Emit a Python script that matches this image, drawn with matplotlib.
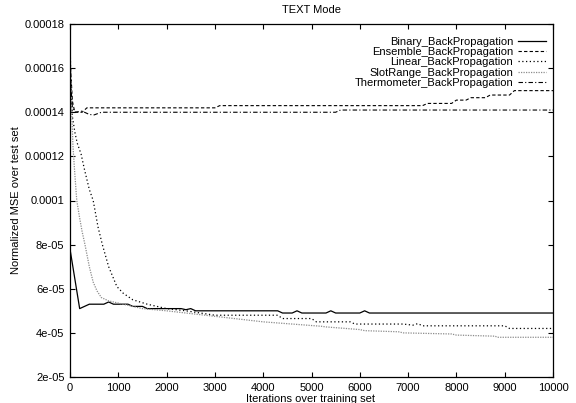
import matplotlib
matplotlib.use('Agg')
import matplotlib.pyplot as plt

plt.rcParams['font.family'] = ['Liberation Sans', 'DejaVu Sans']
plt.rcParams['font.size'] = 8

# 数据 (迭代次数, MSE)
binary_x = [0, 200, 400, 700, 800, 900, 1200, 1300, 1500, 1600, 2300, 2400, 2500, 2600,
            4300, 4400, 4600, 4700, 4800, 5300, 5400, 5500, 6000, 6100, 6200, 10000]
binary_y = [7.8e-05, 5.1e-05, 5.3e-05, 5.3e-05, 5.4e-05, 5.3e-05, 5.3e-05, 5.2e-05, 5.2e-05,
            5.1e-05, 5.1e-05, 5.05e-05, 5.1e-05, 5.0e-05, 5.0e-05, 4.9e-05, 4.9e-05, 5.0e-05,
            4.9e-05, 4.9e-05, 5.0e-05, 4.9e-05, 4.9e-05, 5.0e-05, 4.9e-05, 4.9e-05]

ensemble_x = [0, 50, 100, 250, 350, 3000, 3100, 7300, 7400, 7900, 8000, 8200, 8300,
              8600, 8700, 9100, 9200, 10000]
ensemble_y = [0.000165, 0.000145, 0.00014, 0.00014, 0.000142, 0.000142, 0.000143, 0.000143,
              0.000144, 0.000144, 0.0001455, 0.0001455, 0.0001466, 0.0001466, 0.0001478,
              0.0001478, 0.0001498, 0.0001498]

linear_x = [0, 20, 50, 100, 150, 230, 300, 400, 480, 580, 670, 800, 970, 1100, 1300, 1600,
            2000, 2400, 2700, 3000, 4300, 4400, 5000, 5100, 5800, 5900, 6900, 7100, 7200,
            7300, 9000, 9050, 9100, 10000]
linear_y = [0.000175, 0.00015, 0.000138, 0.000131, 0.000126, 0.000121, 0.000114, 0.000105,
            0.0001, 8.8e-05, 8.0e-05, 7.0e-05, 6.1e-05, 5.8e-05, 5.5e-05, 5.3e-05, 5.1e-05,
            5.0e-05, 4.9e-05, 4.8e-05, 4.8e-05, 4.65e-05, 4.65e-05, 4.5e-05, 4.5e-05, 4.4e-05,
            4.4e-05, 4.35e-05, 4.42e-05, 4.32e-05, 4.32e-05, 4.26e-05, 4.2e-05, 4.2e-05]

slot_x = [0, 30, 60, 100, 140, 200, 250, 310, 400, 480, 560, 650, 800, 1000, 1500, 2000,
          2400, 2800, 3200, 3600, 4000, 4600, 5200, 5300, 6000, 6100, 6800, 6900, 7900,
          8000, 8800, 8850, 10000]
slot_y = [0.00017, 0.000145, 0.000125, 0.000112, 0.0001, 9.2e-05, 8.6e-05, 8.0e-05, 7.0e-05,
          6.3e-05, 5.9e-05, 5.6e-05, 5.45e-05, 5.35e-05, 5.1e-05, 5.0e-05, 4.9e-05, 4.8e-05,
          4.7e-05, 4.6e-05, 4.5e-05, 4.4e-05, 4.3e-05, 4.27e-05, 4.15e-05, 4.1e-05, 4.05e-05,
          4.0e-05, 3.95e-05, 3.9e-05, 3.85e-05, 3.8e-05, 3.8e-05]

thermo_x = [0, 50, 100, 250, 400, 500, 650, 750, 5500, 5600, 10000]
thermo_y = [0.000158, 0.000142, 0.00014, 0.0001405, 0.000139, 0.0001388, 0.00014, 0.00014,
            0.00014, 0.000141, 0.000141]

x_ticks = list(range(0, 10001, 1000))
y_ticks = [2e-05, 4e-05, 6e-05, 8e-05, 0.0001, 0.00012, 0.00014, 0.00016, 0.00018]
y_tick_labels = ['2e-05', '4e-05', '6e-05', '8e-05', '0.0001', '0.00012', '0.00014',
                 '0.00016', '0.00018']

fig = plt.figure(figsize=(5.76, 4.03), dpi=100)
ax = fig.add_axes([70 / 576, 1 - 377 / 403, 483 / 576, 353 / 403])

ax.plot(binary_x, binary_y, color='black', lw=0.9, label='Binary_BackPropagation')
ax.plot(ensemble_x, ensemble_y, color='black', lw=0.8, linestyle=(0, (3, 2)),
        label='Ensemble_BackPropagation')
ax.plot(linear_x, linear_y, color='black', lw=0.9, linestyle=(0, (1, 2)),
        label='Linear_BackPropagation')
ax.plot(slot_x, slot_y, color='0.55', lw=0.9, linestyle=(0, (1, 1)),
        label='SlotRange_BackPropagation')
ax.plot(thermo_x, thermo_y, color='black', lw=0.8, linestyle=(0, (4, 2, 1, 2)),
        label='Thermometer_BackPropagation')

ax.set_xlim(0, 10000)
ax.set_ylim(2e-05, 0.00018)
ax.set_xticks(x_ticks)
ax.set_xticklabels([str(t) for t in x_ticks])
ax.set_yticks(y_ticks)
ax.set_yticklabels(y_tick_labels)
ax.tick_params(direction='in', top=True, right=True, length=3.6, width=0.8, pad=4)
for s in ax.spines.values():
    s.set_linewidth(0.9)

fig.text(311 / 576, 1 - 10 / 403, 'TEXT Mode', ha='center', va='center')
fig.text(16 / 576, 1 - 200 / 403, 'Normalized MSE over test set', rotation=90,
         ha='center', va='center')
fig.text(311 / 576, 1 - 399 / 403, 'Iterations over training set', ha='center', va='center')

ax.legend(loc='upper right', bbox_to_anchor=(0.9855, 0.9635), frameon=False, markerfirst=False,
          borderpad=0, borderaxespad=0, labelspacing=0.02, handlelength=2.5,
          handletextpad=0.45, fontsize=8)

fig.savefig('out.png', dpi=100)
